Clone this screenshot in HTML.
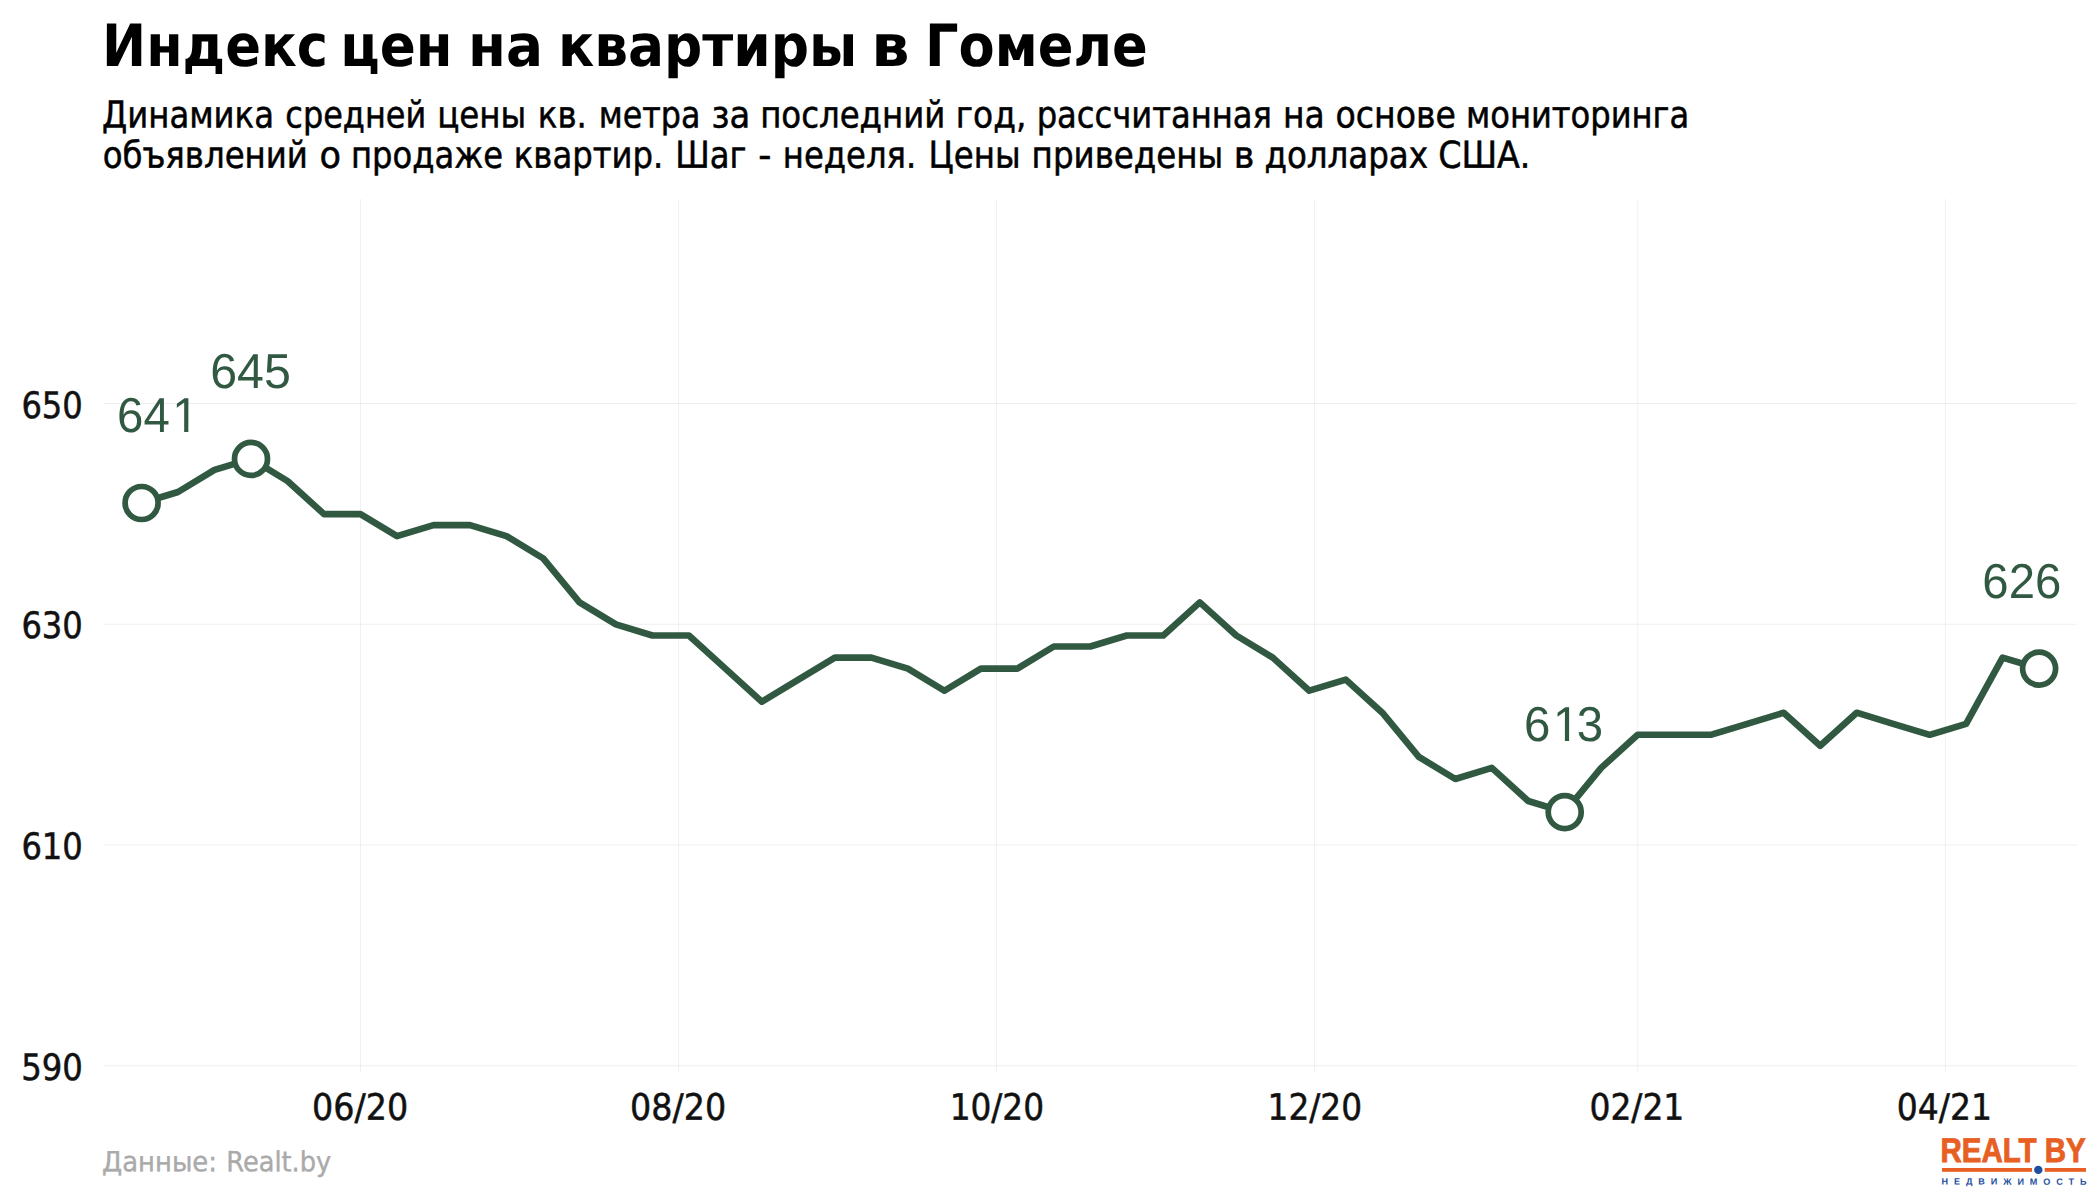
<!DOCTYPE html>
<html lang="ru"><head><meta charset="utf-8"><title>Индекс цен на квартиры в Гомеле</title>
<style>html,body{margin:0;padding:0;background:#fff}svg{display:block;text-rendering:geometricPrecision}text{white-space:pre}</style></head><body>
<svg width="2100" height="1200" viewBox="0 0 2100 1200">
<rect width="2100" height="1200" fill="#fff"/>
<g stroke="#000" stroke-width="1.05" fill="none">
<g stroke-opacity="0.055">
<line x1="360.5" y1="199" x2="360.5" y2="1072"/>
<line x1="678.5" y1="199" x2="678.5" y2="1072"/>
<line x1="996.5" y1="199" x2="996.5" y2="1072"/>
<line x1="1314.5" y1="199" x2="1314.5" y2="1072"/>
<line x1="1637.7" y1="199" x2="1637.7" y2="1072"/>
<line x1="1945.3" y1="199" x2="1945.3" y2="1072"/>
</g><g stroke-opacity="0.068">
<line x1="103.5" y1="403.5" x2="2077" y2="403.5"/>
<line x1="103.5" y1="624.25" x2="2077" y2="624.25"/>
<line x1="103.5" y1="845.0" x2="2077" y2="845.0"/>
<line x1="103.5" y1="1065.7" x2="2077" y2="1065.7"/>
</g></g>
<g font-family="'DejaVu Sans Condensed','DejaVu Sans','Liberation Sans',sans-serif" font-stretch="condensed" font-weight="bold" font-size="58.3" fill="#000">
<text transform="rotate(0.03 102.1 66)"><tspan x="102.1" y="66.000" textLength="225.81" lengthAdjust="spacingAndGlyphs">Индекс</tspan> <tspan x="340.27" y="65.875" textLength="112.2" lengthAdjust="spacingAndGlyphs">цен</tspan> <tspan x="468.01" y="65.808" textLength="74.99" lengthAdjust="spacingAndGlyphs">на</tspan> <tspan x="557.98" y="65.761" textLength="299.3" lengthAdjust="spacingAndGlyphs">квартиры</tspan> <tspan x="871.38" y="65.597" textLength="38.33" lengthAdjust="spacingAndGlyphs">в</tspan> <tspan x="925.12" y="65.569" textLength="222.52" lengthAdjust="spacingAndGlyphs">Гомеле</tspan></text>
</g>
<g font-family="'DejaVu Sans Condensed','DejaVu Sans','Liberation Sans',sans-serif" font-stretch="condensed" font-weight="normal" font-size="37.1" fill="#000" stroke="#000" stroke-width="0.5">
<text transform="rotate(0.03 102.05 127.5)"><tspan x="102.05" y="127.500" textLength="171.91" lengthAdjust="spacingAndGlyphs">Динамика</tspan> <tspan x="285.37" y="127.404" textLength="140.81" lengthAdjust="spacingAndGlyphs">средней</tspan> <tspan x="437.13" y="127.325" textLength="89.11" lengthAdjust="spacingAndGlyphs">цены</tspan> <tspan x="537.8" y="127.272" textLength="49.09" lengthAdjust="spacingAndGlyphs">кв.</tspan> <tspan x="598.86" y="127.240" textLength="101.5" lengthAdjust="spacingAndGlyphs">метра</tspan> <tspan x="711.53" y="127.181" textLength="38.76" lengthAdjust="spacingAndGlyphs">за</tspan> <tspan x="760.17" y="127.155" textLength="185.11" lengthAdjust="spacingAndGlyphs">последний</tspan> <tspan x="955.86" y="127.053" textLength="70.46" lengthAdjust="spacingAndGlyphs">год,</tspan> <tspan x="1036.63" y="127.011" textLength="235.25" lengthAdjust="spacingAndGlyphs">рассчитанная</tspan> <tspan x="1282.98" y="126.882" textLength="41.71" lengthAdjust="spacingAndGlyphs">на</tspan> <tspan x="1335.6" y="126.854" textLength="120.23" lengthAdjust="spacingAndGlyphs">основе</tspan> <tspan x="1466.06" y="126.786" textLength="223.09" lengthAdjust="spacingAndGlyphs">мониторинга</tspan></text>
</g>
<g font-family="'DejaVu Sans Condensed','DejaVu Sans','Liberation Sans',sans-serif" font-stretch="condensed" font-weight="normal" font-size="37.1" fill="#000" stroke="#000" stroke-width="0.5">
<text transform="rotate(0.03 102.67 167.7)"><tspan x="102.67" y="167.700" textLength="205.21" lengthAdjust="spacingAndGlyphs">объявлений</tspan> <tspan x="319.47" y="167.586" textLength="21.5" lengthAdjust="spacingAndGlyphs">о</tspan> <tspan x="351.04" y="167.570" textLength="151.96" lengthAdjust="spacingAndGlyphs">продаже</tspan> <tspan x="513.86" y="167.485" textLength="149.33" lengthAdjust="spacingAndGlyphs">квартир.</tspan> <tspan x="675.29" y="167.400" textLength="71.21" lengthAdjust="spacingAndGlyphs">Шаг</tspan> <tspan x="758.38" y="167.357" textLength="13.2" lengthAdjust="spacingAndGlyphs">-</tspan> <tspan x="782.85" y="167.344" textLength="133.4" lengthAdjust="spacingAndGlyphs">неделя.</tspan> <tspan x="928.58" y="167.268" textLength="91.97" lengthAdjust="spacingAndGlyphs">Цены</tspan> <tspan x="1031.61" y="167.214" textLength="191.67" lengthAdjust="spacingAndGlyphs">приведены</tspan> <tspan x="1233.73" y="167.108" textLength="20.6" lengthAdjust="spacingAndGlyphs">в</tspan> <tspan x="1264.42" y="167.092" textLength="163.58" lengthAdjust="spacingAndGlyphs">долларах</tspan> <tspan x="1438.27" y="167.001" textLength="92.17" lengthAdjust="spacingAndGlyphs">США.</tspan></text>
</g>
<g font-family="'DejaVu Sans Condensed','DejaVu Sans','Liberation Sans',sans-serif" font-stretch="condensed" font-weight="normal" font-size="36.4" fill="#111" stroke="#111" stroke-width="0.5">
<text transform="rotate(0.03 21.41 417.9)"><tspan x="21.41" y="417.900" textLength="61.39" lengthAdjust="spacingAndGlyphs">650</tspan></text>
<text transform="rotate(0.03 21.41 637.9)"><tspan x="21.41" y="637.900" textLength="61.39" lengthAdjust="spacingAndGlyphs">630</tspan></text>
<text transform="rotate(0.03 21.41 858.9)"><tspan x="21.41" y="858.900" textLength="61.39" lengthAdjust="spacingAndGlyphs">610</tspan></text>
<text transform="rotate(0.03 21.31 1079.9)"><tspan x="21.31" y="1079.900" textLength="61.57" lengthAdjust="spacingAndGlyphs">590</tspan></text>
</g>
<g font-family="'DejaVu Sans Condensed','DejaVu Sans','Liberation Sans',sans-serif" font-stretch="condensed" font-weight="normal" font-size="36.4" fill="#111" stroke="#111" stroke-width="0.5">
<text transform="rotate(0.03 312.12 1119.7)"><tspan x="312.12" y="1119.700" textLength="95.97" lengthAdjust="spacingAndGlyphs">06/20</tspan></text>
<text transform="rotate(0.03 630.12 1119.7)"><tspan x="630.12" y="1119.700" textLength="95.97" lengthAdjust="spacingAndGlyphs">08/20</tspan></text>
<text transform="rotate(0.03 949.63 1119.7)"><tspan x="949.63" y="1119.700" textLength="94.41" lengthAdjust="spacingAndGlyphs">10/20</tspan></text>
<text transform="rotate(0.03 1267.63 1119.7)"><tspan x="1267.63" y="1119.700" textLength="94.41" lengthAdjust="spacingAndGlyphs">12/20</tspan></text>
<text transform="rotate(0.03 1589.52 1119.7)"><tspan x="1589.52" y="1119.700" textLength="94.77" lengthAdjust="spacingAndGlyphs">02/21</tspan></text>
<text transform="rotate(0.03 1896.88 1119.7)"><tspan x="1896.88" y="1119.700" textLength="95.1" lengthAdjust="spacingAndGlyphs">04/21</tspan></text>
</g>
<polyline points="141.6,503.0 178.0,492.0 214.5,469.9 251.0,458.9 287.5,481.0 324.0,514.1 360.5,514.1 397.0,536.1 433.5,525.1 470.0,525.1 506.5,536.1 543.0,558.2 579.5,602.4 615.9,624.4 652.4,635.5 688.9,635.5 725.4,668.6 761.9,701.7 798.4,679.6 834.9,657.6 871.4,657.6 907.9,668.6 944.4,690.7 980.9,668.6 1017.4,668.6 1053.8,646.5 1090.3,646.5 1126.8,635.5 1163.3,635.5 1199.8,602.4 1236.3,635.5 1272.8,657.6 1309.3,690.7 1345.8,679.6 1382.3,712.7 1418.8,756.9 1455.3,779.0 1491.8,767.9 1528.2,801.0 1564.7,812.1 1601.2,767.9 1637.7,734.8 1674.2,734.8 1710.7,734.8 1747.2,723.8 1783.7,712.7 1820.2,745.8 1856.7,712.7 1893.2,723.8 1929.7,734.8 1966.1,723.8 2002.6,657.6 2039.1,668.6" fill="none" stroke="#315942" stroke-width="6.6" stroke-linejoin="round" stroke-linecap="butt"/>
<circle cx="141.6" cy="503.0" r="16.5" fill="#fff" stroke="#315942" stroke-width="5.7"/>
<circle cx="251.0" cy="458.9" r="16.5" fill="#fff" stroke="#315942" stroke-width="5.7"/>
<circle cx="1564.7" cy="812.1" r="16.5" fill="#fff" stroke="#315942" stroke-width="5.7"/>
<circle cx="2039.1" cy="668.6" r="16.5" fill="#fff" stroke="#315942" stroke-width="5.7"/>
<g font-family="'Liberation Sans',sans-serif" font-size="49" fill="#315942">
<text transform="rotate(0.03 210.23 388.1)"><tspan x="210.23" y="388.100" textLength="80.57" lengthAdjust="spacingAndGlyphs">645</tspan></text>
<text transform="rotate(0.03 1982.36 598)"><tspan x="1982.36" y="598.000" textLength="78.87" lengthAdjust="spacingAndGlyphs">626</tspan></text>
<text transform="rotate(0.03 1524.06 741)" x="1524.06" y="741" dx="0 2.6 -2.6" textLength="79" lengthAdjust="spacingAndGlyphs">613</text>
<text transform="rotate(0.03 117.09 432)" x="117.09" y="432" dx="0 0 2.6" textLength="81.6" lengthAdjust="spacingAndGlyphs">641</text>
</g>
<g fill="#fff"><rect x="174.5" y="427.5" width="9.65" height="5.5"/><rect x="188.36" y="427.5" width="9.14" height="5.5"/><rect x="1555.5" y="736.5" width="9.4" height="5.5"/><rect x="1569.1" y="736.5" width="9.4" height="5.5"/></g>

<g font-family="'DejaVu Sans Condensed','DejaVu Sans','Liberation Sans',sans-serif" font-stretch="condensed" font-weight="normal" font-size="27.7" fill="#aaaaaa" stroke="#aaaaaa" stroke-width="0.38">
<text transform="rotate(0.03 102.06 1171.3)"><tspan x="102.06" y="1171.300" textLength="114.9" lengthAdjust="spacingAndGlyphs">Данные:</tspan> <tspan x="226.33" y="1171.235" textLength="104.91" lengthAdjust="spacingAndGlyphs">Realt.by</tspan></text>
</g>
<g font-family="'Liberation Sans',sans-serif" font-weight="bold" font-size="34.3" fill="#e85f23" stroke="#e85f23" stroke-width="0.9">
<text transform="rotate(0.03 1940.57 1162.25)"><tspan x="1940.57" y="1162.250" textLength="145.22" lengthAdjust="spacingAndGlyphs">REALT BY</tspan></text>
</g>
<rect x="1942" y="1168" width="90" height="3.8" fill="#e85f23"/><rect x="2044.7" y="1168" width="41.3" height="3.8" fill="#e85f23"/>
<circle cx="2038.3" cy="1169.9" r="4.2" fill="#1f4f9f"/>
<g font-family="'Liberation Sans',sans-serif" font-weight="bold" font-size="9.1" fill="#1f4f9f">
<text transform="rotate(0.03 1941.42 1184.6)"><tspan x="1941.42" y="1184.600" textLength="145.19" lengthAdjust="spacing">НЕДВИЖИМОСТЬ</tspan></text>
</g>
</svg></body></html>
